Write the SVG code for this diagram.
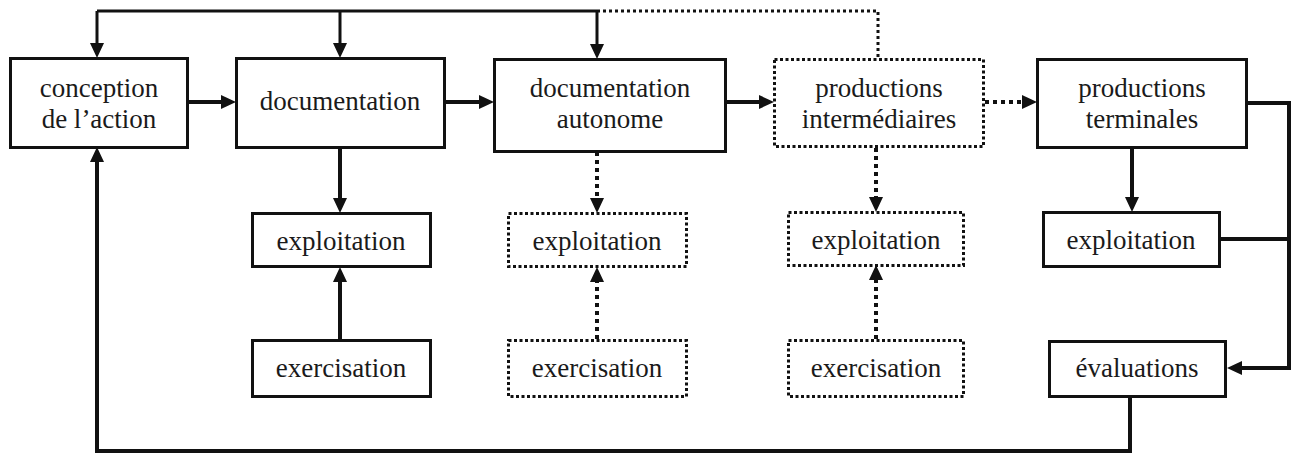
<svg xmlns="http://www.w3.org/2000/svg" width="1293" height="453" viewBox="0 0 1293 453">
  <style>
    .box { fill: #fff; stroke: #111; stroke-width: 3; }
    .dot { fill: #fff; stroke: #111; stroke-width: 3; stroke-dasharray: 3 2.5; }
    .lbl { font-family: "Liberation Serif", "Times New Roman", serif; font-size: 27px; fill: #1a1a1a; text-anchor: middle; }
    .ln { fill: none; stroke: #111; stroke-width: 4; }
    .ln3 { fill: none; stroke: #111; stroke-width: 3; }
    .lnd { fill: none; stroke: #111; stroke-width: 4; stroke-dasharray: 4 4; }
    .lnd3 { fill: none; stroke: #111; stroke-width: 3; stroke-dasharray: 3 3; }
    .arr { marker-end: url(#ah); }
  </style>
  <defs>
    <marker id="ah" viewBox="0 0 15 14" refX="5" refY="7" markerWidth="15" markerHeight="14" markerUnits="userSpaceOnUse" orient="auto">
      <path d="M0,0 L15,7 L0,14 z" fill="#111"/>
    </marker>
  </defs>
  <rect width="1293" height="453" fill="#fff"/>

  <g id="connectors">
    <!-- feedback bus along the top -->
    <path class="ln3" d="M97,11 H597"/>
    <path class="ln3 arr" d="M97,11 V48"/>
    <path class="ln3 arr" d="M340,11 V48"/>
    <path class="ln3 arr" d="M597,11 V49"/>
    <path class="lnd3" d="M597,11 H878 V59"/>
    <!-- main chain -->
    <path class="ln arr" d="M188,102 H226"/>
    <path class="ln arr" d="M445,102 H484"/>
    <path class="ln arr" d="M726,102 H764"/>
    <path class="lnd arr" d="M985,102 H1027"/>
    <!-- documentation column -->
    <path class="ln arr" d="M340,148 V203"/>
    <path class="ln arr" d="M340,339 V277"/>
    <!-- documentation autonome column -->
    <path class="lnd arr" d="M597,152 V203"/>
    <path class="lnd arr" d="M597,339 V277"/>
    <!-- productions intermediaires column -->
    <path class="lnd arr" d="M876,148 V202"/>
    <path class="lnd arr" d="M876,339 V275"/>
    <!-- productions terminales column -->
    <path class="ln arr" d="M1132,149 V202"/>
    <path class="ln arr" d="M1247,103 H1289 V368 H1237"/>
    <path class="ln" d="M1220,239 H1289"/>
    <!-- return loop to conception -->
    <path class="ln arr" d="M1130,397 V451 H97 V157"/>
  </g>

  <g id="conception">
    <rect class="box" x="10.5" y="58.5" width="177" height="89"/>
    <text class="lbl" x="99" y="97">conception</text>
    <text class="lbl" x="99" y="128">de l’action</text>
  </g>
  <g id="documentation">
    <rect class="box" x="236.5" y="58.5" width="208" height="89"/>
    <text class="lbl" x="340" y="110">documentation</text>
  </g>
  <g id="documentation-autonome">
    <rect class="box" x="494.5" y="59.5" width="231" height="92"/>
    <text class="lbl" x="610" y="97">documentation</text>
    <text class="lbl" x="610" y="128">autonome</text>
  </g>
  <g id="productions-intermediaires">
    <rect class="dot" x="774.5" y="59.5" width="209" height="87"/>
    <text class="lbl" x="879" y="97">productions</text>
    <text class="lbl" x="879" y="128">intermédiaires</text>
  </g>
  <g id="productions-terminales">
    <rect class="box" x="1037.5" y="59.5" width="209" height="88"/>
    <text class="lbl" x="1142" y="97">productions</text>
    <text class="lbl" x="1142" y="128">terminales</text>
  </g>

  <g id="exploitation-1">
    <rect class="box" x="252.5" y="213.5" width="178" height="53"/>
    <text class="lbl" x="341" y="250">exploitation</text>
  </g>
  <g id="exercisation-1">
    <rect class="box" x="252.5" y="340.5" width="178" height="56"/>
    <text class="lbl" x="341" y="377">exercisation</text>
  </g>
  <g id="exploitation-2">
    <rect class="dot" x="508.5" y="213.5" width="178" height="53"/>
    <text class="lbl" x="597" y="250">exploitation</text>
  </g>
  <g id="exercisation-2">
    <rect class="dot" x="508.5" y="340.5" width="178" height="56"/>
    <text class="lbl" x="597" y="377">exercisation</text>
  </g>
  <g id="exploitation-3">
    <rect class="dot" x="788.5" y="212.5" width="175" height="53"/>
    <text class="lbl" x="876" y="249">exploitation</text>
  </g>
  <g id="exercisation-3">
    <rect class="dot" x="788.5" y="340.5" width="175" height="56"/>
    <text class="lbl" x="876" y="377">exercisation</text>
  </g>
  <g id="exploitation-4">
    <rect class="box" x="1043.5" y="212.5" width="176" height="54"/>
    <text class="lbl" x="1131" y="249">exploitation</text>
  </g>
  <g id="evaluations">
    <rect class="box" x="1049.5" y="341.5" width="176" height="55"/>
    <text class="lbl" x="1137" y="377">évaluations</text>
  </g>
</svg>
